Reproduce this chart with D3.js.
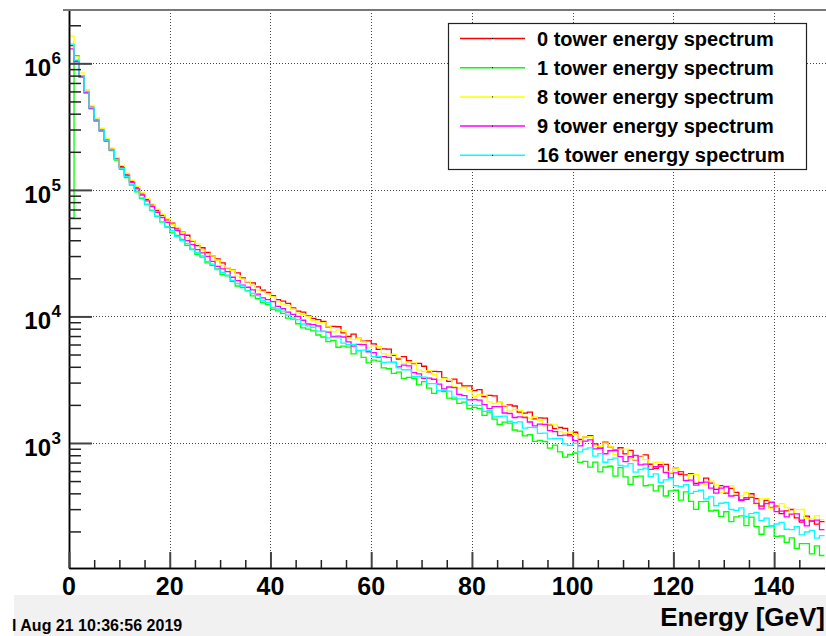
<!DOCTYPE html>
<html>
<head>
<meta charset="utf-8">
<title>Tower energy spectra</title>
<style>
	body { margin: 0; background: #fff; }
	svg { display: block; font-family: "Liberation Sans", Arial, Helvetica, sans-serif; font-weight: bold; }
</style>
</head>
<body>
<script src="https://cdn.jsdelivr.net/npm/d3@7"></script>
<script>
// bin contents, 1 GeV bins from 0 to 150 GeV
var tower0 = [1380000,1050000,800000,600000,450000,360000,300000,250000,210000,178000,153000,133000,117000,104000,93000,84000,76000,69000,63000,58000,
	54500,49200,46400,43800,39400,36300,34900,32100,29900,28500,26500,24200,23200,22100,20200,18800,18400,17100,16100,15500,
	14600,13600,13200,12700,11700,11000,10800,10100,9650,9450,9150,8270,8340,8290,7410,6940,7250,6720,6370,6410,
	6080,5490,5540,5510,4920,4610,4820,4465,4230,4260,4040,3650,3680,3660,3270,3070,3200,2970,2820,2830,
	2590,2640,2330,2380,2360,2090,1960,2000,1960,1750,1720,1755,1550,1580,1570,1390,1300,1325,1305,1165,
	1215,1065,1115,1145,982,910,1015,925,876,917,819,874,735,786,804,679,629,674,677,581,
	634,566,559,572,480,485,527,481,430,460,401,438,407,355,358,397,363,317,352,309,
	317,277,291,298,256,237,264,241,228,239];
var tower1 = [60000,1150000,775000,582000,436000,349000,291000,242000,204000,172000,145000,125300,109300,96300,85400,76400,68600,61700,55800,50900,
	45800,43600,40600,36400,34000,31000,29400,26500,25300,23800,21400,20900,18900,17400,16900,16000,14550,13800,12850,12400,
	11400,11050,10560,9700,9530,8750,8120,7950,7680,7130,6880,6320,6460,5710,5830,5720,5060,5360,4750,4300,
	4510,4430,3925,3860,3550,3630,3220,3300,3240,2880,3050,2715,2465,2595,2550,2265,2225,2055,2105,1870,
	1910,1870,1650,1750,1545,1400,1463,1434,1266,1241,1140,1163,1029,1050,1027,911,962,852,773,811,
	833,702,715,644,705,590,646,655,548,639,539,470,541,547,459,467,419,457,381,418,
	423,353,411,345,299,344,346,290,294,263,286,239,261,265,222,259,218,190,219,221,
	183,184,164,178,147,160,160,133,154,129];
var tower8 = [1640000,1120000,840000,620000,465000,370000,308000,256000,215000,181000,156000,135500,119500,106000,94900,85700,77500,70400,64300,59200,
	53500,50500,46200,41800,39900,37400,33500,31400,30000,27800,25200,24300,23000,20900,19700,18900,17600,16200,15800,15100,
	14300,13100,12500,12200,11400,10600,10400,9940,9220,8890,8940,8380,7570,7820,7680,6780,6590,6720,6300,5690,
	5870,5760,5090,4950,5040,4730,4250,4380,4290,3780,3670,3730,3490,3150,3240,3180,2800,2720,2760,2590,
	2340,2420,2380,2110,2050,2095,1970,1785,1845,1820,1615,1575,1610,1510,1365,1415,1390,1230,1200,1220,
	1170,1020,1115,1120,943,935,998,929,810,886,894,753,743,793,738,644,704,707,595,587,
	634,590,514,562,564,475,468,500,466,407,458,459,386,382,407,379,330,361,363,305,
	310,332,308,272,297,298,253,250,267,248];
var tower9 = [1300000,1030000,784000,588000,441000,353000,294000,245000,206000,174000,150000,130000,114500,102000,91100,81900,73700,66600,60500,55400,
	50300,47600,44500,39700,37000,33700,31800,29800,27200,24900,23800,22600,20400,19200,17700,17000,16200,15000,14000,13600,
	13100,12000,11500,10800,10400,10000,9330,8710,8620,8400,7630,7510,6950,7000,6880,6300,5830,6020,5980,5260,
	5170,4780,4820,4740,4335,3990,4120,4070,3600,3520,3235,3260,3190,2920,2680,2770,2735,2420,2365,2190,
	2205,2180,2010,1870,1940,1940,1725,1710,1590,1610,1590,1465,1365,1410,1405,1250,1230,1145,1155,1140,
	1044,947,1035,1059,899,905,822,868,872,780,711,778,796,671,680,618,649,652,582,529,
	581,594,504,508,464,487,491,439,401,439,451,381,385,350,369,371,333,302,332,340,
	287,289,261,274,275,245,221,242,246,207];
var tower16 = [1420000,1060000,800000,598000,448000,358000,298000,248000,207000,174000,148000,127700,111200,97800,86500,77300,69200,62100,56100,51000,
	47700,42900,39800,37600,33800,32000,30100,27200,25900,23500,22300,21200,19300,18200,17400,15900,15200,14600,13400,12900,
	11800,11450,11000,10230,9750,9440,8710,8420,8210,7650,7600,6780,6840,6800,6150,5980,6020,5380,5420,5380,
	4810,4840,4330,4360,4340,3925,3790,3790,3360,3360,3315,2940,2940,2605,2610,2570,2305,2230,2230,1980,
	1990,1985,1780,1800,1610,1625,1630,1485,1450,1470,1312,1330,1325,1190,1197,1078,1085,1086,984,956,
	992,851,893,914,786,823,704,740,758,664,656,686,588,617,632,543,569,487,511,524,
	459,451,468,399,415,423,361,375,319,334,339,298,293,307,263,276,283,243,255,217,
	229,236,208,207,218,188,198,204,177,185];

var seriesNames = ["0 tower energy spectrum", "1 tower energy spectrum", "8 tower energy spectrum", "9 tower energy spectrum", "16 tower energy spectrum"];
var seriesValues = [tower0, tower1, tower8, tower9, tower16];
var seriesColors = ["#ff0000", "#00ff00", "#ffff00", "#ff00ff", "#00ffff"];

var binWidth = 1; // GeV
var xDomain = [0, 150];
var yDomain = [102.8, 2.64e6];
var xMajor = [0, 20, 40, 60, 80, 100, 120, 140];
var yMajor = [1e3, 1e4, 1e5, 1e6];
var yExponents = ["3", "4", "5", "6"];
var xTitle = "Energy [GeV]";
var stamp = "l Aug 21 10:36:56 2019";

var width = 826, height = 636;
// plot frame (note: "top" is reserved on window, so use a box object)
var frame = { left: 69, right: 824.5, top: 10, bottom: 568 };

var svg = d3.select("body").append("svg")
	.attr("width", width)
	.attr("height", height);

var x = d3.scaleLinear().domain(xDomain).range([frame.left, frame.right]);
var y = d3.scaleLog().domain(yDomain).range([frame.bottom, frame.top]);

// grey status band at the bottom
svg.append("rect")
	.attr("x", 14).attr("y", 595)
	.attr("width", width - 14).attr("height", height - 595)
	.attr("fill", "#f1f1f1");

// minor tick values
var xMinor = d3.range(5, 150, 5).filter(function(d) { return d % 20 !== 0; });
var yMinor = [];
[100, 1e3, 1e4, 1e5, 1e6].forEach(function(dec) {
	for (var k = 2; k <= 9; k++) {
		var v = k * dec;
		if (v > yDomain[0] && v < yDomain[1]) yMinor.push(v);
	}
});

// grid
var grid = svg.append("g")
	.attr("stroke", "#444")
	.attr("stroke-width", 1)
	.attr("stroke-dasharray", "1,2");
grid.selectAll("line.v")
	.data(xMajor.filter(function(d) { return d > 0; }))
	.join("line")
		.attr("class", "v")
		.attr("x1", function(d) { return Math.round(x(d)) + 0.5; })
		.attr("x2", function(d) { return Math.round(x(d)) + 0.5; })
		.attr("y1", frame.top).attr("y2", frame.bottom);
grid.selectAll("line.h")
	.data(yMajor)
	.join("line")
		.attr("class", "h")
		.attr("y1", function(d) { return Math.round(y(d)) + 0.5; })
		.attr("y2", function(d) { return Math.round(y(d)) + 0.5; })
		.attr("x1", frame.left).attr("x2", width);

// histograms
svg.append("clipPath").attr("id", "plot")
	.append("rect")
	.attr("x", frame.left).attr("y", frame.top)
	.attr("width", width - frame.left).attr("height", frame.bottom - frame.top);

function stepPoints(values) {
	var pts = values.map(function(v, i) { return [i * binWidth, v]; });
	pts.push([values.length * binWidth, values[values.length - 1]]);
	return pts;
}

var line = d3.line()
	.x(function(d) { return x(d[0]); })
	.y(function(d) { return y(d[1]); })
	.curve(d3.curveStepAfter);

svg.append("g")
	.attr("clip-path", "url(#plot)")
	.attr("fill", "none")
	.attr("stroke-width", 1.3)
	.selectAll("path")
	.data(seriesValues)
	.join("path")
		.attr("d", function(d) { return line(stepPoints(d)); })
		.attr("stroke", function(d, i) { return seriesColors[i]; });

// axes
var ax = svg.append("g").attr("fill", "none");
ax.append("g")
	.attr("transform", "translate(" + frame.left + ",0)")
	.call(d3.axisRight(y).tickValues(yMajor).tickSize(23).tickSizeOuter(0).tickFormat(""))
	.call(function(g) { g.selectAll(".tick line").attr("stroke", "#444").attr("stroke-width", 2); });
ax.append("g")
	.attr("transform", "translate(" + frame.left + ",0)")
	.call(d3.axisRight(y).tickValues(yMinor).tickSize(12).tickSizeOuter(0).tickFormat(""))
	.call(function(g) { g.selectAll(".tick line").attr("stroke", "#222").attr("stroke-width", 1.5); });
ax.append("g")
	.attr("transform", "translate(0," + frame.bottom + ")")
	.call(d3.axisTop(x).tickValues(xMajor).tickSize(16).tickSizeOuter(0).tickFormat(""))
	.call(function(g) { g.selectAll(".tick line").attr("stroke", "#444").attr("stroke-width", 2); });
ax.append("g")
	.attr("transform", "translate(0," + frame.bottom + ")")
	.call(d3.axisTop(x).tickValues(xMinor).tickSize(8).tickSizeOuter(0).tickFormat(""))
	.call(function(g) { g.selectAll(".tick line").attr("stroke", "#222").attr("stroke-width", 1.5); });
ax.selectAll(".domain").attr("stroke", "#000").attr("stroke-width", 1.5);

// top frame
svg.append("line")
	.attr("x1", frame.left - 6).attr("x2", width)
	.attr("y1", frame.top).attr("y2", frame.top)
	.attr("stroke", "#777").attr("stroke-width", 2);

// x tick labels
svg.append("g")
	.attr("font-size", 25)
	.attr("text-anchor", "middle")
	.selectAll("text")
	.data(xMajor)
	.join("text")
		.attr("x", function(d) { return x(d); })
		.attr("y", 595)
		.text(function(d) { return d; });

// y tick labels: 10 with superscript exponent
var yl = svg.append("g").selectAll("g")
	.data(yMajor)
	.join("g");
yl.append("text")
	.attr("x", 51)
	.attr("y", function(d) { return y(d) + 13; })
	.attr("font-size", 24)
	.attr("text-anchor", "end")
	.text("10");
yl.append("text")
	.attr("x", 51.5)
	.attr("y", function(d) { return y(d) + 1; })
	.attr("font-size", 17)
	.text(function(d, i) { return yExponents[i]; });

// axis title
svg.append("text")
	.attr("x", 825).attr("y", 626)
	.attr("font-size", 26)
	.attr("text-anchor", "end")
	.text(xTitle);

// date stamp
svg.append("text")
	.attr("x", 12).attr("y", 630.5)
	.attr("font-size", 16)
	.text(stamp);

// legend
var legend = svg.append("g");
legend.append("rect")
	.attr("x", 448.5).attr("y", 23.5)
	.attr("width", 358).attr("height", 146)
	.attr("fill", "#fff")
	.attr("stroke", "#222").attr("stroke-width", 1.2);

var rows = legend.selectAll("g.row")
	.data(seriesNames)
	.join("g")
		.attr("class", "row")
		.attr("transform", function(d, i) { return "translate(0," + (38.5 + i * 29.2) + ")"; });
rows.append("line")
	.attr("x1", 460).attr("x2", 525)
	.attr("y1", 0).attr("y2", 0)
	.attr("stroke", function(d, i) { return seriesColors[i]; })
	.attr("stroke-width", 1.5);
rows.append("rect")
	.attr("x", 492).attr("y", -0.5)
	.attr("width", 1).attr("height", 1)
	.attr("fill", "#000");
rows.append("text")
	.attr("x", 537).attr("y", 7)
	.attr("font-size", 20)
	.text(function(d) { return d; });
</script>
</body>
</html>
